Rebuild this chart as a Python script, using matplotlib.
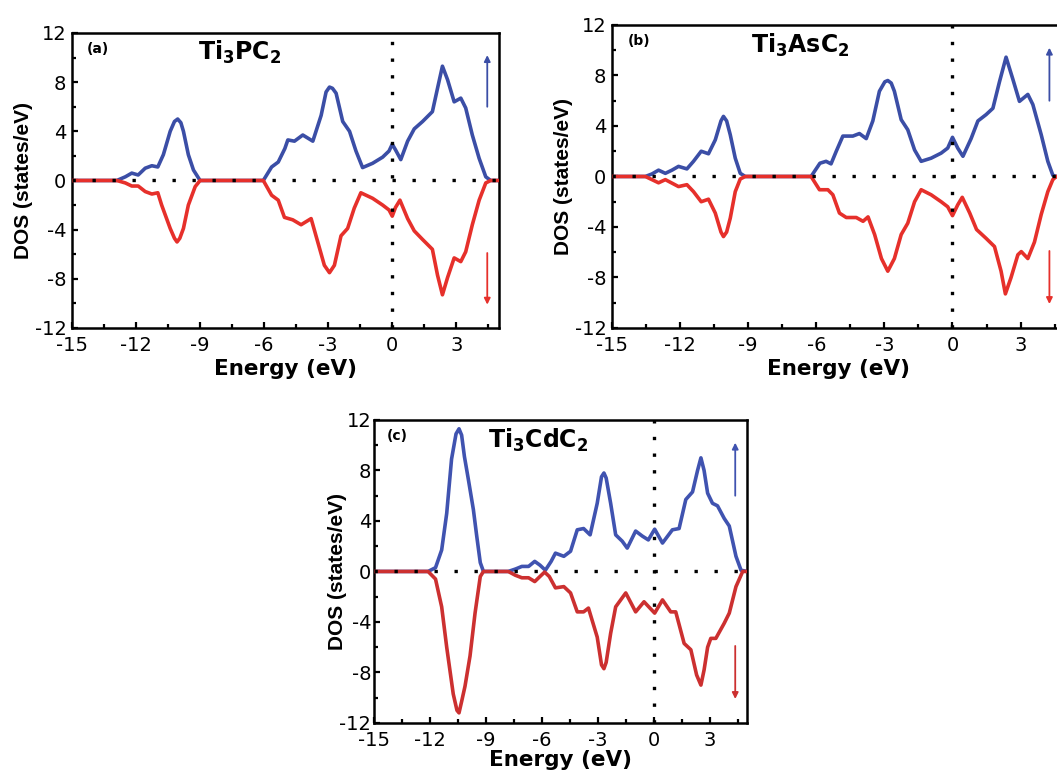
"""Spin-polarised total DOS of Ti3PC2, Ti3AsC2 and Ti3CdC2 (three panels)."""
import matplotlib
matplotlib.use("Agg")
import matplotlib.pyplot as plt
from matplotlib.ticker import MultipleLocator

plt.rcParams["font.family"] = ["DejaVu Sans"]
plt.rcParams["mathtext.fontset"] = "dejavusans"
plt.rcParams["axes.unicode_minus"] = False

# ---- (a) Ti3PC2 ----
e_a_up = [-15, -12.9, -12.5, -12.2, -11.9, -11.57, -11.26, -10.98, -10.72, -10.4, -10.2, -10.05, -9.9,
          -9.78, -9.55, -9.31, -9.0, -6.04, -5.65, -5.34, -5.03, -4.89, -4.58, -4.19, -3.72, -3.33,
          -3.1, -2.94, -2.8, -2.63, -2.32, -2.0, -1.7, -1.39, -0.92, -0.45, -0.15, 0, 0.15, 0.4, 0.72,
          1.03, 1.42, 1.88, 2.12, 2.35, 2.59, 2.9, 3.21, 3.44, 3.75, 4.07, 4.38, 4.61, 5.0]
dos_a_up = [0, 0, 0.3, 0.6, 0.45, 1.0, 1.2, 1.1, 2.1, 4.0, 4.8, 5.0, 4.7, 4.0, 2.1, 0.85, 0, 0, 1.1,
            1.5, 2.6, 3.3, 3.2, 3.7, 3.2, 5.3, 7.2, 7.6, 7.5, 7.1, 4.8, 4.0, 2.4, 1.05, 1.4, 1.9, 2.4,
            2.95, 2.5, 1.7, 3.2, 4.2, 4.8, 5.6, 7.5, 9.3, 8.2, 6.4, 6.7, 5.9, 3.7, 1.8, 0.3, 0, 0]
e_a_dn = [-15, -12.9, -12.5, -12.2, -11.9, -11.57, -11.26, -10.98, -10.8, -10.4, -10.2, -10.08, -9.95,
          -9.78, -9.55, -9.23, -9.0, -6.04, -5.65, -5.34, -5.05, -4.66, -4.27, -3.8, -3.49, -3.18,
          -2.94, -2.71, -2.4, -2.09, -1.78, -1.47, -0.92, -0.45, -0.15, 0, 0.15, 0.36, 0.72, 1.03,
          1.42, 1.88, 2.12, 2.35, 2.59, 2.9, 3.21, 3.44, 3.75, 4.07, 4.38, 4.61, 5.0]
dos_a_dn = [0, 0, -0.2, -0.45, -0.45, -0.9, -1.1, -1.0, -2.0, -3.9, -4.7, -5.0, -4.7, -3.9, -2.0,
            -0.5, 0, 0, -1.2, -1.6, -3.0, -3.2, -3.6, -3.1, -5.0, -6.9, -7.5, -6.9, -4.5, -3.9, -2.25,
            -1.0, -1.45, -2.0, -2.4, -2.9, -2.2, -1.6, -3.1, -4.1, -4.8, -5.6, -7.7, -9.3, -7.9, -6.3,
            -6.6, -5.8, -3.6, -1.6, -0.2, 0, 0]

# ---- (b) Ti3AsC2 ----
e_b_up = [-15, -13.53, -13.24, -12.95, -12.65, -12.36, -12.07, -11.7, -11.41, -11.07, -10.75, -10.45,
          -10.2, -10.09, -9.95, -9.79, -9.57, -9.35, -9.13, -6.23, -5.84, -5.57, -5.35, -5.12, -4.83,
          -4.39, -4.1, -3.8, -3.51, -3.22, -2.98, -2.85, -2.7, -2.56, -2.26, -1.97, -1.67, -1.38,
          -0.94, -0.5, -0.21, 0, 0.23, 0.46, 0.82, 1.12, 1.48, 1.78, 2.07, 2.36, 2.66, 2.95, 3.32,
          3.54, 3.91, 4.2, 4.42, 4.57, 5.0]
dos_b_up = [0, 0, 0.2, 0.5, 0.25, 0.5, 0.8, 0.6, 1.2, 2.0, 1.8, 2.9, 4.4, 4.76, 4.4, 3.3, 1.45, 0.25,
            0, 0, 1.05, 1.2, 1.0, 2.0, 3.2, 3.2, 3.4, 3.0, 4.4, 6.75, 7.5, 7.6, 7.4, 6.75, 4.5, 3.7,
            2.1, 1.2, 1.45, 1.85, 2.25, 3.1, 2.25, 1.6, 3.0, 4.4, 4.9, 5.4, 7.5, 9.45, 7.7, 5.95, 6.5,
            5.7, 3.3, 1.2, 0.1, 0, 0]
e_b_dn = [-15, -13.53, -12.95, -12.65, -12.07, -11.7, -11.41, -11.07, -10.75, -10.45, -10.2, -10.09,
          -9.95, -9.79, -9.57, -9.35, -9.13, -6.23, -5.86, -5.49, -5.27, -4.98, -4.68, -4.24, -3.94,
          -3.72, -3.43, -3.13, -2.85, -2.56, -2.26, -1.97, -1.67, -1.38, -0.94, -0.5, -0.21, 0, 0.23,
          0.43, 0.76, 1.06, 1.48, 1.85, 2.14, 2.33, 2.58, 2.88, 3.03, 3.32, 3.61, 3.91, 4.2, 4.42,
          4.57, 5.0]
dos_b_dn = [0, 0, -0.5, -0.25, -0.8, -0.65, -1.2, -2.0, -1.8, -2.9, -4.4, -4.76, -4.4, -3.3, -1.2,
            -0.2, 0, 0, -1.05, -1.05, -1.45, -2.9, -3.25, -3.25, -3.55, -3.2, -4.6, -6.5, -7.5, -6.5,
            -4.6, -3.7, -2.0, -1.05, -1.45, -2.0, -2.4, -3.1, -2.25, -1.65, -2.9, -4.2, -4.9, -5.55,
            -7.5, -9.3, -8.0, -6.2, -5.95, -6.5, -5.2, -3.0, -1.2, -0.25, 0, 0]

# ---- (c) Ti3CdC2 ----
e_c_up = [-15, -12.1, -11.7, -11.37, -11.1, -10.84, -10.6, -10.44, -10.3, -10.15, -9.94, -9.67, -9.49,
          -9.3, -9.13, -7.8, -7.4, -7.07, -6.71, -6.38, -6.1, -5.81, -5.5, -5.27, -4.82, -4.46, -4.1,
          -3.76, -3.41, -3.03, -2.8, -2.67, -2.55, -2.31, -2.04, -1.69, -1.42, -0.97, -0.61, -0.29,
          0.05, 0.47, 1.0, 1.36, 1.72, 2.08, 2.35, 2.53, 2.7, 2.89, 3.15, 3.42, 3.78, 4.05, 4.41,
          4.68, 5.0]
dos_c_up = [0, 0, 0.3, 1.7, 4.6, 8.9, 10.9, 11.3, 10.8, 9.1, 7.3, 4.9, 2.8, 0.7, 0, 0, 0.2, 0.4, 0.4,
            0.8, 0.5, 0.1, 0.8, 1.45, 1.2, 1.6, 3.3, 3.4, 2.9, 5.4, 7.5, 7.8, 7.4, 5.4, 2.9, 2.4, 1.85,
            3.2, 2.8, 2.5, 3.35, 2.25, 3.3, 3.4, 5.7, 6.3, 8.0, 9.0, 8.0, 6.2, 5.4, 5.2, 4.2, 3.6, 1.2,
            0.1, 0]
e_c_dn = [-15, -12.1, -11.7, -11.37, -11.1, -10.75, -10.55, -10.44, -10.3, -10.12, -9.85, -9.58, -9.3,
          -9.13, -7.8, -7.42, -7.07, -6.71, -6.38, -6.1, -5.85, -5.6, -5.27, -4.82, -4.46, -4.1,
          -3.76, -3.5, -3.03, -2.8, -2.67, -2.55, -2.31, -2.04, -1.5, -0.97, -0.52, 0.05, 0.47, 0.91,
          1.18, 1.63, 1.99, 2.3, 2.53, 2.7, 2.89, 3.06, 3.33, 3.78, 4.05, 4.41, 4.77, 5.0]
dos_c_dn = [0, 0, -0.6, -2.8, -6.0, -9.7, -11.0, -11.2, -10.3, -9.1, -6.7, -3.3, -0.4, 0, 0, -0.3,
            -0.5, -0.5, -0.8, -0.4, -0.05, -0.4, -1.3, -1.2, -1.7, -3.2, -3.2, -2.9, -5.2, -7.4, -7.7,
            -7.2, -4.9, -2.8, -1.7, -3.2, -2.4, -3.3, -2.25, -3.2, -3.2, -5.7, -6.2, -8.2, -9.0, -7.8,
            -6.0, -5.3, -5.3, -4.1, -3.3, -1.2, 0, 0]

titles = [r"$\mathbf{Ti_3PC_2}$", r"$\mathbf{Ti_3AsC_2}$", r"$\mathbf{Ti_3CdC_2}$"]
tags = ["(a)", "(b)", "(c)"]
x_ticks = [-15, -12, -9, -6, -3, 0, 3]
y_ticks = [-12, -8, -4, 0, 4, 8, 12]

BLUE = "#3b4ea6"
RED = "#e6302b"


def draw_panel(ax, e_up, d_up, e_dn, d_dn, title, tag, title_x, arrow_x, red=RED, blue=BLUE,
               ylab_x=-0.09, ypad=4, xlabpad=3):
    ax.plot(e_up, d_up, color=blue, lw=2.6, solid_joinstyle="round", zorder=2)
    ax.plot(e_dn, d_dn, color=red, lw=2.6, solid_joinstyle="round", zorder=3)
    # Fermi level and zero line, dotted on top of the curves
    ax.axhline(0, color="black", lw=2.4, ls=(0, (1, 5)), zorder=4)
    ax.axvline(0, color="black", lw=2.4, ls=(0, (1, 4)), zorder=4)
    ax.set_xlim(-15, 5)
    ax.set_ylim(-12, 12)
    ax.set_xticks(x_ticks)
    ax.set_yticks(y_ticks)
    ax.xaxis.set_minor_locator(MultipleLocator(1.5))
    ax.yaxis.set_minor_locator(MultipleLocator(2))
    ax.tick_params(which="both", direction="in", width=1.6, labelsize=14)
    ax.tick_params(axis="x", which="both", pad=6)
    ax.tick_params(axis="y", which="both", pad=ypad)
    ax.tick_params(which="major", length=4)
    ax.tick_params(which="minor", length=3)
    for s in ax.spines.values():
        s.set_linewidth(1.8)
    ax.set_xlabel("Energy (eV)", fontsize=15.5, fontweight="bold", labelpad=xlabpad)
    ax.set_ylabel("DOS (states/eV)", fontsize=15, fontweight="bold",
                  family=["Liberation Sans", "DejaVu Sans"])
    ax.yaxis.set_label_coords(ylab_x, 0.5)
    ax.text(-14.3, 10.7, tag, fontsize=10, fontweight="bold", va="center", ha="left")
    ax.text(title_x, 10.4, title, fontsize=17, va="center", ha="center")
    ax.annotate("", xy=(arrow_x, 10.2), xytext=(arrow_x, 6.0),
                arrowprops=dict(arrowstyle="-|>", color=blue, lw=1.3, mutation_scale=9,
                                shrinkA=0, shrinkB=0))
    ax.annotate("", xy=(arrow_x, -10.1), xytext=(arrow_x, -5.9),
                arrowprops=dict(arrowstyle="-|>", color=red, lw=1.3, mutation_scale=9,
                                shrinkA=0, shrinkB=0))


fig = plt.figure(figsize=(10.57, 7.71), dpi=100)
ax_a = fig.add_axes([0.0681, 0.5746, 0.404, 0.3826])
ax_b = fig.add_axes([0.579, 0.5746, 0.4295, 0.393])
ax_c = fig.add_axes([0.3538, 0.0623, 0.3529, 0.393])

draw_panel(ax_a, e_a_up, dos_a_up, e_a_dn, dos_a_dn, titles[0], tags[0], -7.15, 4.45,
           ylab_x=-0.091)
draw_panel(ax_b, e_b_up, dos_b_up, e_b_dn, dos_b_dn, titles[1], tags[1], -6.7, 4.27,
           ylab_x=-0.086)
draw_panel(ax_c, e_c_up, dos_c_up, e_c_dn, dos_c_dn, titles[2], tags[2], -6.2, 4.37,
           red="#cc3030", blue="#4053b0", ylab_x=-0.072, ypad=2, xlabpad=0)

fig.savefig("out.png", dpi=100)
